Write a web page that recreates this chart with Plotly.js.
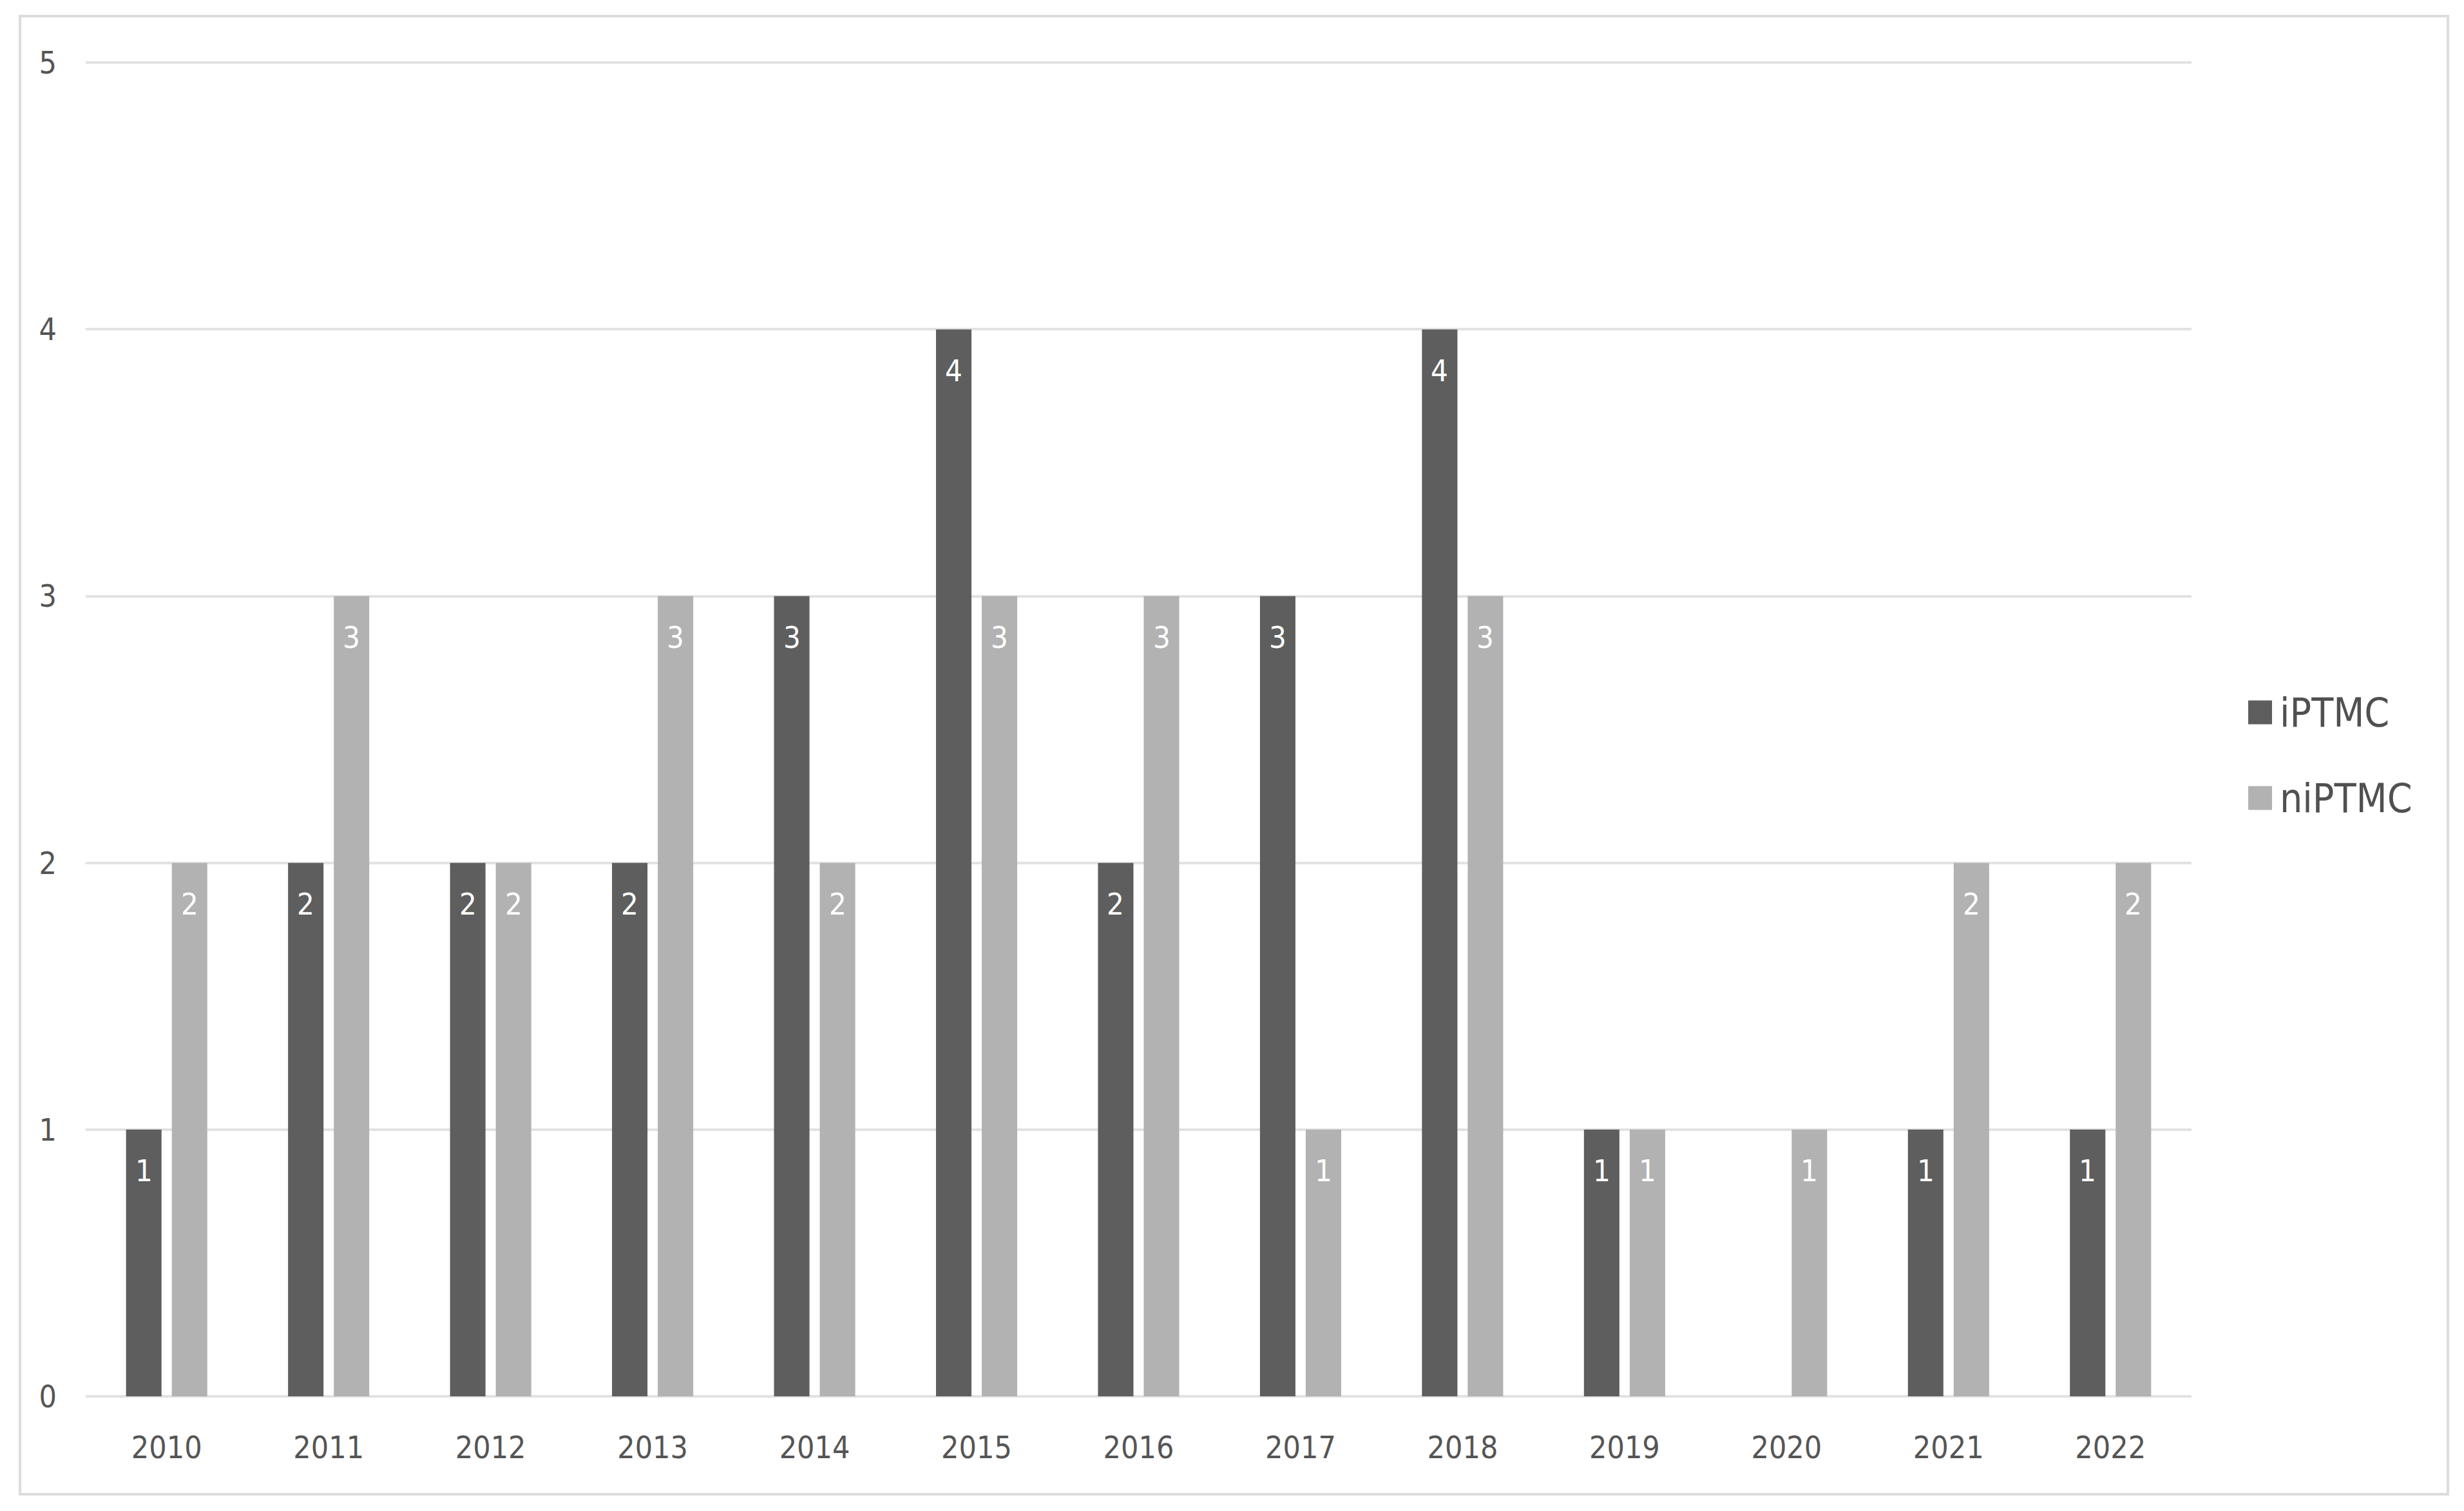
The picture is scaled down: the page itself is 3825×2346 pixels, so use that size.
<!DOCTYPE html>
<html>
<head>
<meta charset="utf-8">
<script src="https://cdn.plot.ly/plotly-3.0.1.min.js"></script>
<style>
  html, body { margin: 0; padding: 0; background: #ffffff; }
  #chart { width: 3825px; height: 2346px; }
</style>
</head>
<body>
<div id="chart"></div>
<script>
// ---- data ----
const years = ['2010','2011','2012','2013','2014','2015','2016','2017','2018','2019','2020','2021','2022'];
const seriesNames = ['iPTMC', 'niPTMC'];
const iPTMC  = [1, 2, 2, 2, 3, 4, 2, 3, 4, 1, 0, 1, 1];
const niPTMC = [2, 3, 2, 3, 2, 3, 3, 1, 3, 1, 1, 2, 2];
const yTicks = [0, 1, 2, 3, 4, 5];

// ---- style ----
const W = 3825, H = 2346;
const M = { l: 133, r: 423, t: 89, b: 178 };
const plotW = W - M.l - M.r, plotH = H - M.t - M.b;
const colors = ['#5e5e5e', '#b2b2b2'];
const FONT = '"DejaVu Sans Condensed", "Liberation Sans", sans-serif';
const BARGAP = 0.435, BARGROUPGAP = 0.225;
const gridColor = '#e2e2e2';
const Y_MAX = 5.02;

const seriesValues = [iPTMC, niPTMC];

const traces = seriesValues.map((vals, i) => ({
  type: 'bar',
  name: seriesNames[i],
  x: years,
  y: vals,
  marker: { color: colors[i], line: { width: 0 } },
  showlegend: false
}));

// value labels placed near the top inside each bar
const catW = plotW / years.length;
const slot = catW * (1 - BARGAP) / seriesValues.length;
const annotations = [];
seriesValues.forEach((vals, i) => {
  const shift = (i - (seriesValues.length - 1) / 2) * slot;
  vals.forEach((v, j) => {
    if (v > 0) {
      annotations.push({
        x: j, y: v, xref: 'x', yref: 'y',
        xshift: shift, yshift: -64, yanchor: 'middle', xanchor: 'center',
        text: String(v), showarrow: false,
        font: { family: FONT, size: 47, color: '#ffffff' }
      });
    }
  });
});

// legend drawn as swatches + text (paper coords from pixel positions)
const px2x = p => (p - M.l) / plotW;
const px2y = p => 1 - (p - M.t) / plotH;
const shapes = [];
const legendTop = 1106, legendStep = 133, sw = 37, legX = 3490;
seriesNames.forEach((name, i) => {
  const cy = legendTop + i * legendStep;
  shapes.push({
    type: 'rect', xref: 'paper', yref: 'paper',
    x0: px2x(legX), x1: px2x(legX + sw), y0: px2y(cy + sw / 2), y1: px2y(cy - sw / 2),
    fillcolor: colors[i], line: { width: 0 }
  });
  annotations.push({
    xref: 'paper', yref: 'paper', x: px2x(legX + sw + 10), y: px2y(cy),
    xanchor: 'left', yanchor: 'middle', showarrow: false, text: name,
    font: { family: FONT, size: 62, color: '#505050' }
  });
});

// outer frame
shapes.push({
  type: 'rect', xref: 'paper', yref: 'paper', layer: 'below',
  x0: px2x(31), x1: px2x(3800), y0: px2y(2320), y1: px2y(25),
  line: { color: '#dcdcdc', width: 4 }, fillcolor: 'rgba(0,0,0,0)'
});

const layout = {
  width: W, height: H,
  margin: M,
  paper_bgcolor: '#ffffff',
  plot_bgcolor: '#ffffff',
  barmode: 'group',
  bargap: BARGAP,
  bargroupgap: BARGROUPGAP,
  showlegend: false,
  font: { family: FONT, color: '#595959' },
  xaxis: {
    type: 'category',
    range: [-0.5, years.length - 0.5],
    autorange: false,
    showgrid: false, zeroline: false, showline: false,
    ticks: '', ticklabelstandoff: 47, tickangle: 0,
    tickfont: { family: FONT, size: 48, color: '#555555' }
  },
  yaxis: {
    range: [0, Y_MAX],
    autorange: false,
    tickmode: 'array',
    tickvals: yTicks, ticktext: yTicks.map(String),
    showgrid: true, gridcolor: gridColor, gridwidth: 4,
    zeroline: true, zerolinecolor: gridColor, zerolinewidth: 4,
    showline: false, ticks: '', ticklabelstandoff: 44,
    tickfont: { family: FONT, size: 48, color: '#555555' }
  },
  annotations: annotations,
  shapes: shapes
};

Plotly.newPlot('chart', traces, layout, { displayModeBar: false, staticPlot: true });
</script>
</body>
</html>
